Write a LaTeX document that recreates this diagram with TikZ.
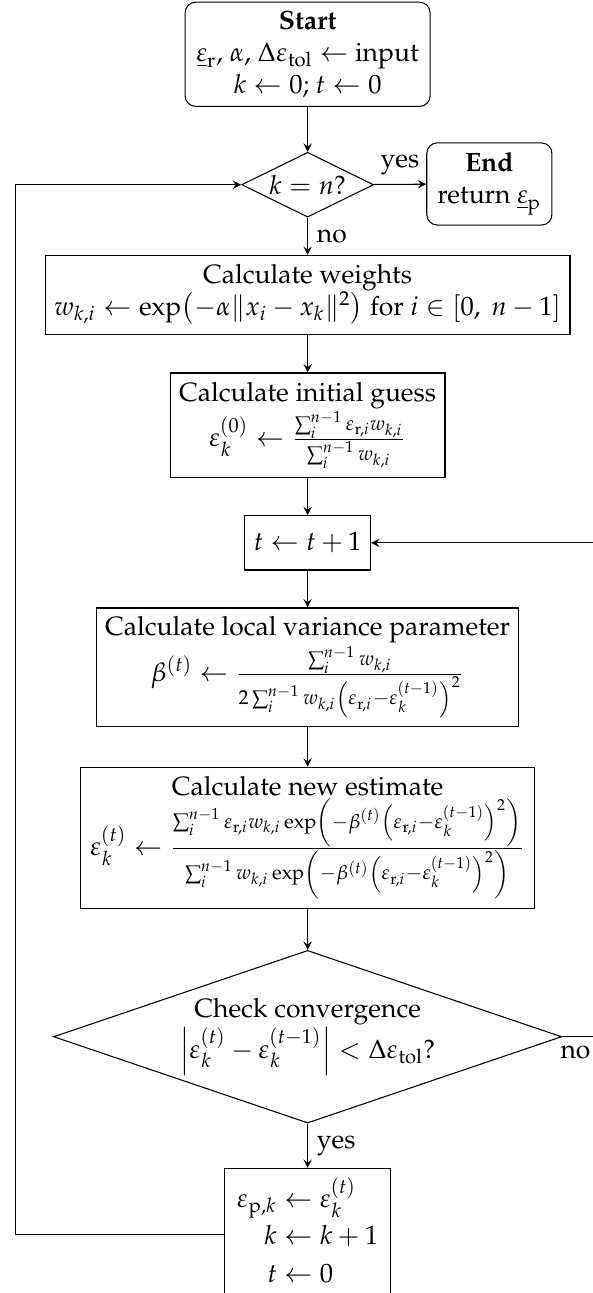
\documentclass[tikz,border=0pt]{standalone}
\usepackage[T1]{fontenc}
\usepackage{amsmath,amssymb}
\usepackage{mathpazo}
\usepackage{tikz}
\usetikzlibrary{shapes.geometric}
\newcommand{\er}{\varepsilon_{\mathrm{r},i}}
\newcommand{\ekp}{\varepsilon_k^{(t-1)}}

\begin{document}
\begin{tikzpicture}[
    box/.style={draw, align=center},
    term/.style={draw, rounded corners, align=center},
    cond/.style={draw, diamond, aspect=2.8, align=center, inner sep=0pt}
  ]
    \useasboundingbox (0,0) rectangle (7.865,-17.149);
    \node[term, minimum width=3.25cm, minimum height=1.31cm] (start) at (4.08,-0.72)
        {\textbf{Start}\\ $\underline{\varepsilon}_\mathrm{r}$, $\alpha$, $\Delta\varepsilon_\mathrm{tol} \leftarrow$ input\\ $k \leftarrow 0$; $t \leftarrow 0$};
    \node[cond, minimum width=1.75cm, minimum height=0.86cm] (dec1) at (4.08,-2.45) {$k = n$?};
    \node[term, minimum width=1.66cm, minimum height=1.09cm] (end) at (6.49,-2.44)
        {\textbf{End}\\ return $\underline{\varepsilon}_\mathrm{p}$};
    \node[box, minimum width=6.96cm, minimum height=1.03cm] (weights) at (4.08,-3.91)
        {Calculate weights\\ $w_{k,i} \leftarrow \exp\bigl(-\alpha\|x_i - x_k\|^2\bigr)$ for $i \in [0,\ n-1]$};
    \node[box, minimum height=1.38cm] (guess) at (4.08,-5.64)
        {Calculate initial guess\\ $\varepsilon_k^{(0)} \leftarrow \frac{\sum_i^{n-1} \er w_{k,i}}{\sum_i^{n-1} w_{k,i}}$};
    \node[box, minimum width=1.67cm, minimum height=0.72cm] (tinc) at (4.08,-7.20) {$t \leftarrow t+1$};
    \node[box, minimum width=5.52cm, minimum height=1.55cm] (var) at (4.08,-8.85)
        {Calculate local variance parameter\\ $\beta^{(t)} \leftarrow \frac{\sum_i^{n-1} w_{k,i}}{2\sum_i^{n-1} w_{k,i}\left(\er-\ekp\right)^2}$};
    \node[box, minimum width=6.03cm, minimum height=1.87cm] (new) at (4.08,-11.11)
        {Calculate new estimate\\ $\varepsilon_k^{(t)} \leftarrow \frac{\sum_i^{n-1} \er w_{k,i}\exp\left(-\beta^{(t)}\left(\er-\ekp\right)^2\right)}{\sum_i^{n-1} w_{k,i}\exp\left(-\beta^{(t)}\left(\er-\ekp\right)^2\right)}$};
    \node[cond, minimum width=6.74cm, minimum height=2.29cm] (dec2) at (4.08,-13.75)
        {Check convergence\\ $\left|\varepsilon_k^{(t)} - \ekp\right| < \Delta\varepsilon_\mathrm{tol}$?};
    \node[box, anchor=north, minimum width=2.2cm, minimum height=1.75cm] (final) at (4.08,-15.49)
        {$\begin{aligned} \varepsilon_{\mathrm{p},k} &\leftarrow \varepsilon_k^{(t)}\\[-2.6pt] k &\leftarrow k+1\\[-0.8pt] t &\leftarrow 0 \end{aligned}$};
    \coordinate (loopL) at (0.2,0);
    \coordinate (loopR) at (8.16,0);

    \draw[-stealth] (start) -- (dec1);
    \draw[-stealth] (dec1) -- node[above] {yes} (end);
    \draw[-stealth] (dec1) -- node[right] {no} (weights);
    \draw[-stealth] (weights) -- (guess);
    \draw[-stealth] (guess) -- (tinc);
    \draw[-stealth] (tinc) -- (var);
    \draw[-stealth] (var) -- (new);
    \draw[-stealth] (new) -- (dec2);
    \draw[-stealth] (dec2) -- node[right] {yes} (final);
    \draw[-stealth] (dec2.east) -- node[below, near start] {no} (loopR |- dec2.east) |- (tinc.east);
    \draw[-stealth] (final.west) -- (loopL |- final.west) |- (dec1.west);
\end{tikzpicture}
\end{document}
